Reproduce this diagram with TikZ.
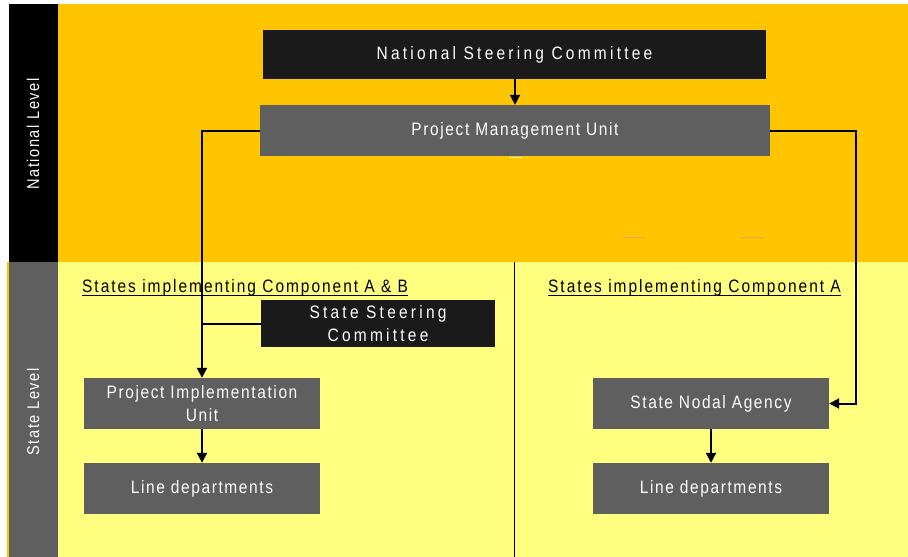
\documentclass[tikz,border=0pt]{standalone}
\usepackage{fontspec}
\setmainfont{Liberation Sans}
\newfontfamily\lblfont{Liberation Sans}[LetterSpace=9,FakeStretch=0.86]
\newfontfamily\sectfont{Liberation Sans}[LetterSpace=11,FakeStretch=0.86]
\newfontfamily\blkfont{Liberation Sans}[LetterSpace=18,FakeStretch=0.86]
\usetikzlibrary{arrows.meta}
\definecolor{orangebg}{HTML}{FFC600}
\definecolor{yellowbg}{HTML}{FFFF80}
\definecolor{boxgray}{HTML}{5F5F5F}
\definecolor{boxblack}{HTML}{1A1A1A}
\definecolor{faintmark}{HTML}{D8B060}
\tikzset{
  graybox/.style={fill=boxgray, text=white, inner sep=0pt, align=center,
    font=\lblfont\fontsize{18}{23}\selectfont},
  blackbox/.style={fill=boxblack, text=white, inner sep=0pt, align=center,
    font=\blkfont\fontsize{18}{23}\selectfont},
  sectlabel/.style={inner sep=0pt, anchor=base west, text=black,
    font=\sectfont\fontsize{18}{20}\selectfont},
  bandlabel/.style={rotate=90, text=white, inner sep=0pt,
    font=\lblfont\fontsize{17}{20}\selectfont},
  conn/.style={line width=2pt, draw=black},
  arr/.style={conn, -{Triangle[length=10pt,width=10pt]}},
}
\begin{document}
\begin{tikzpicture}[x=1pt, y=-1pt]
\useasboundingbox (0,0) rectangle (908,557);
\fill[white] (0,0) rectangle (908,557);
% bands
\fill[orangebg] (9,4) rectangle (908,262);
\fill[yellowbg] (58,262) rectangle (908,557);
\fill[black] (9,4) rectangle (58,262);
\fill[boxgray] (9,262) rectangle (58,557);
\fill[orangebg] (7,262) rectangle (9,557);
\node[bandlabel] (natlev) at (33,134) {National Level};
\node[bandlabel] (statelev) at (33,412) {State Level};
% faint marks
\draw[faintmark, line width=1pt] (622,237) -- (645,237);
\draw[faintmark, line width=1pt] (741,237) -- (763,237);
% divider
\draw[conn, line width=1.6pt] (514.5,262) -- (514.5,557);
% boxes
\node[blackbox, minimum width=503pt, minimum height=49pt] (nsc) at (514.5,54.5) {National Steering Committee};
\node[graybox, minimum width=510pt, minimum height=51pt] (pmu) at (515,130.5) {Project Management Unit};
\draw[white!80!orangebg, line width=1pt] (509,157.5) -- (522,157.5);
\node[blackbox, minimum width=234pt, minimum height=47pt] (ssc) at (378,323.5) {State Steering\\Committee};
\node[graybox, minimum width=236pt, minimum height=51pt] (piu) at (202,403.5) {Project Implementation\\Unit};
\node[graybox, minimum width=236pt, minimum height=51pt] (ld1) at (202,488.5) {Line departments};
\node[graybox, minimum width=236pt, minimum height=51pt] (sna) at (711,403.5) {State Nodal Agency};
\node[graybox, minimum width=236pt, minimum height=51pt] (ld2) at (711,488.5) {Line departments};
% section labels
\node[sectlabel] (secab) at (82,292) {States implementing Component A \& B};
\draw[line width=1.3pt] ([yshift=-3.5pt]secab.base west) -- ([yshift=-3.5pt]secab.base east);
\node[sectlabel] (seca) at (548,292) {States implementing Component A};
\draw[line width=1.3pt] ([yshift=-3.5pt]seca.base west) -- ([yshift=-3.5pt]seca.base east);
% connectors
\draw[arr] (nsc.south -| pmu.north) -- (pmu.north);
\draw[arr] (pmu.west) -- (pmu.west -| piu.north) -- (piu.north);
\draw[conn] (ssc.west) -- (ssc.west -| piu.north);
\draw[arr] (pmu.east) -- ++(86,0) |- (sna.east);
\draw[arr] (piu.south) -- (ld1.north);
\draw[arr] (sna.south) -- (ld2.north);
\end{tikzpicture}
\end{document}
